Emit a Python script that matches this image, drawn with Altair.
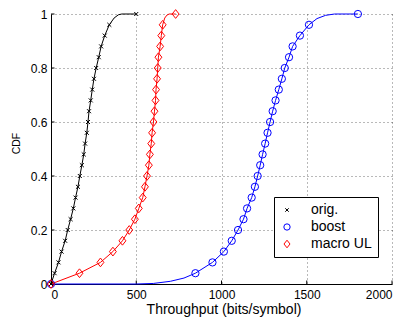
import altair as alt
import pandas as pd

series_names = ["orig.", "boost", "macro UL"]
series_colors = ["#000000", "#0000ff", "#ff0000"]

# CDF level of every marker
cdf_levels = [0, 0.04, 0.08, 0.12, 0.16, 0.20, 0.24, 0.28, 0.32, 0.36, 0.40, 0.44,
              0.48, 0.52, 0.56, 0.60, 0.64, 0.68, 0.72, 0.76, 0.80, 0.84, 0.88,
              0.92, 0.96, 1.0]

orig_x = [0, 21, 44, 62, 83, 98, 115, 131, 144, 158, 169, 181, 192, 200, 210, 217,
          223, 233, 242, 252, 265, 280, 294, 315, 342, 500]
boost_x = [0, 847, 947, 1014, 1060, 1097, 1129, 1150, 1177, 1196, 1212, 1227, 1241,
           1256, 1270, 1285, 1300, 1317, 1336, 1354, 1371, 1396, 1417, 1460, 1513, 1800]
macro_x = [0, 167, 290, 363, 419, 459, 492, 515, 538, 551, 563, 574, 580, 588, 593,
           601, 607, 613, 616, 622, 626, 630, 640, 647, 655, 731]

# extra points of the curves between markers
orig_extra_x = [370, 395, 415]
orig_extra_y = [0.985, 0.997, 1.0]
boost_extra_x = [500, 600, 700, 780, 1560, 1610, 1663]
boost_extra_y = [0.0, 0.002, 0.01, 0.022, 0.983, 0.995, 1.0]
macro_extra_x = [667, 680, 693]
macro_extra_y = [0.985, 0.996, 1.0]

x_ticks = [0, 500, 1000, 1500, 2000]
y_ticks = [0, 0.2, 0.4, 0.6, 0.8, 1.0]

marker_rows = []
for name, xs in zip(series_names, [orig_x, boost_x, macro_x]):
    for xv, yv in zip(xs, cdf_levels):
        marker_rows.append({"series": name, "x": xv, "y": yv})
markers = pd.DataFrame(marker_rows)

line_rows = list(marker_rows)
for name, xs, ys in zip(series_names,
                        [orig_extra_x, boost_extra_x, macro_extra_x],
                        [orig_extra_y, boost_extra_y, macro_extra_y]):
    for xv, yv in zip(xs, ys):
        line_rows.append({"series": name, "x": xv, "y": yv})
lines = pd.DataFrame(line_rows).sort_values(["series", "x", "y"])

xt = pd.DataFrame({"x": x_ticks})
yt = pd.DataFrame({"y": y_ticks})

W, H = 341, 270

x_scale = alt.Scale(domain=[0, 2000], nice=False, zero=False)
y_scale = alt.Scale(domain=[0, 1], nice=False)
color_scale = alt.Scale(domain=series_names, range=series_colors)
x_path = "M-0.55,-0.55L0.55,0.55M0.55,-0.55L-0.55,0.55"
diamond_path = "M0,-1.2L0.95,0L0,1.2L-0.95,0Z"
shape_scale = alt.Scale(domain=series_names, range=[x_path, "circle", diamond_path])

x_axis = alt.Axis(values=x_ticks, format="d", grid=True, ticks=False, tickSize=0,
                  labelPadding=5, titleFontSize=14, titleX=W / 2 + 2, titleY=29.5,
                  titleBaseline="alphabetic", titleAlign="center")
y_axis = alt.Axis(values=y_ticks, format="~g", grid=True, ticks=False, tickSize=0,
                  labelPadding=4, titleFontSize=10.5, titleX=-35, titleY=129,
                  titleBaseline="middle", titleAlign="center")


def xenc():
    return alt.X("x:Q", scale=x_scale, axis=x_axis, title="Throughput (bits/symbol)")


def yenc():
    return alt.Y("y:Q", scale=y_scale, axis=y_axis, title="CDF")


legend = alt.Legend(orient="none", legendX=223, legendY=183,
                    symbolSize=40, symbolStrokeWidth=1,
                    symbolOffset=0, labelOffset=17,
                    labelFontSize=14, padding=6, rowPadding=3,
                    strokeColor="black", fillColor="white",
                    cornerRadius=0, labelColor="black")

xtick_layer = alt.Chart(xt).mark_rule(color="black", strokeWidth=1).encode(
    x=xenc(), y=alt.value(H), y2=alt.value(H - 3.5))
ytick_layer = alt.Chart(yt).mark_rule(color="black", strokeWidth=1).encode(
    y=yenc(), x=alt.value(0), x2=alt.value(3.5))

line_layers = []
for name, col in zip(series_names, series_colors):
    line_layers.append(
        alt.Chart(lines[lines["series"] == name]).mark_line(
            strokeWidth=1, clip=False, color=col).encode(x=xenc(), y=yenc())
    )

point_layer = alt.Chart(markers).mark_point(filled=False, strokeWidth=1, clip=False,
                                            opacity=1, size=53).encode(
    x=xenc(), y=yenc(),
    color=alt.Color("series:N", scale=color_scale, title=None, legend=legend),
    shape=alt.Shape("series:N", scale=shape_scale, title=None, legend=legend),
)

chart = alt.layer(xtick_layer, ytick_layer, *line_layers, point_layer).properties(
    width=W, height=H,
    autosize=alt.AutoSizeParams(type="none"),
    padding={"left": 43, "top": 6, "right": 14, "bottom": 33},
).configure(
    font="Liberation Sans",
).configure_view(
    strokeWidth=0,
).configure_axis(
    domainColor="black", domainWidth=1,
    gridColor="#000000", gridOpacity=0.55, gridDash=[1, 3], gridWidth=1,
    labelColor="black", labelFontSize=12, titleColor="black",
    titleFontWeight="normal",
)

chart.save("out.html", embed_options={"renderer": "svg", "actions": False})
